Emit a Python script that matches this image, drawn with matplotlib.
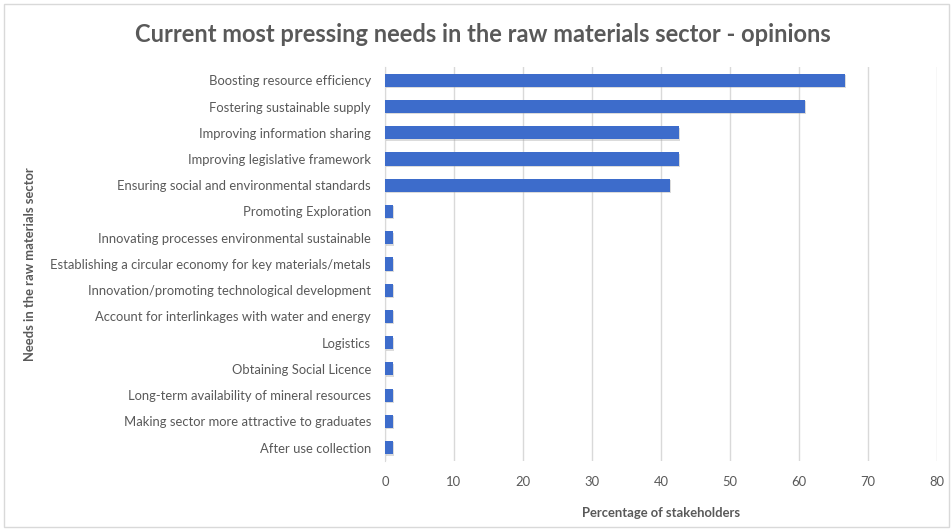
import matplotlib.pyplot as plt
import matplotlib.patheffects as pe
from matplotlib.patches import Rectangle

# needs, top to bottom as in the chart
needs = [
    "Boosting resource efficiency",
    "Fostering sustainable supply",
    "Improving information sharing",
    "Improving legislative framework",
    "Ensuring social and environmental standards",
    "Promoting Exploration",
    "Innovating processes environmental sustainable",
    "Establishing a circular economy for key materials/metals",
    "Innovation/promoting technological development",
    "Account for interlinkages with water and energy",
    "Logistics",
    "Obtaining Social Licence",
    "Long-term availability of mineral resources",
    "Making sector more attractive to graduates",
    "After use collection",
]
percent = [66.7, 60.9, 42.6, 42.6, 41.3, 1.1, 1.1, 1.1, 1.1, 1.1, 1.1, 1.1, 1.1, 1.1, 1.1]
xticks = [0, 10, 20, 30, 40, 50, 60, 70, 80]

grey = "#595959"
plt.rcParams['font.family'] = ['Lato', 'DejaVu Sans']

fig = plt.figure(figsize=(9.53, 5.29), dpi=100)
ax = fig.add_axes([0.404, 0.129, 0.579, 0.744])

ypos = list(range(len(needs)))
bars = ax.barh(ypos, percent, height=0.5, color="#3d6ccb", zorder=3)
for b in bars:
    b.set_path_effects([pe.SimplePatchShadow(offset=(1, -1), shadow_rgbFace="#9a9a9a", alpha=0.35),
                        pe.Normal()])

ax.set_yticks(ypos)
ax.set_yticklabels(needs)
ax.set_ylim(len(needs) - 0.5, -0.5)
ax.set_xlim(0, 80)
ax.set_xticks(xticks)
ax.tick_params(axis='both', length=0, colors=grey, labelsize=9.4)
ax.tick_params(axis='x', pad=11)
ax.tick_params(axis='y', pad=10)
ax.grid(axis='x', color="#d9d9d9", linewidth=1, zorder=0)
for s in ["top", "right", "bottom"]:
    ax.spines[s].set_visible(False)
ax.spines["left"].set_color("#d9d9d9")

ax.set_xlabel("Percentage of stakeholders", fontsize=9.4, fontweight='bold', color=grey, labelpad=14)
fig.text(0.032, 0.5, "Needs in the raw materials sector", rotation=90, fontsize=9.4,
         fontweight='bold', color=grey, ha='center', va='center')
fig.suptitle("Current most pressing needs in the raw materials sector - opinions",
             x=0.507, y=0.957, fontsize=17, fontweight='bold', color=grey)

fig.patches.append(Rectangle((0.004, 0.004), 0.992, 0.988, transform=fig.transFigure,
                             fill=False, edgecolor="#d9d9d9", linewidth=1))

fig.savefig("out.png", dpi=100)
